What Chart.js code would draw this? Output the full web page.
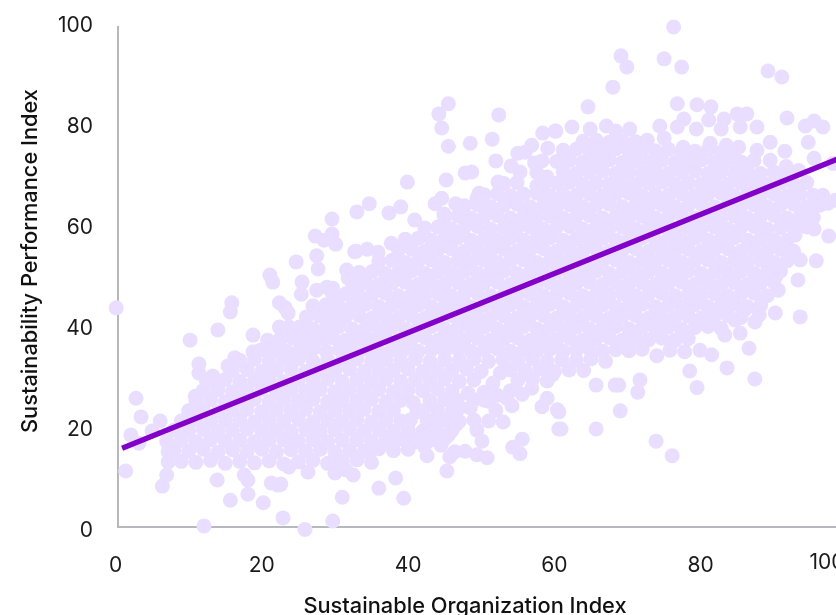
<!DOCTYPE html>
<html>
<head>
<meta charset="utf-8">
<script src="https://cdn.jsdelivr.net/npm/chart.js@4"></script>
<style>
html, body { margin: 0; padding: 0; width: 836px; height: 615px; overflow: hidden; background: #fff; }
canvas { display: block; }
</style>
</head>
<body>
<canvas id="chart" width="900" height="615"></canvas>
<script>
// values, [organization index, performance index]
const topRight = [[76.3,99],[69.1,93.3],[69.9,91.1],[75,92.7],[77.4,91.1],[68,87.1],[89.2,90.3],[91.1,89.1],[64.6,83.2],[76.8,83.8],[79.5,83.6],[81.4,83.2],[77.7,80.8],[76.8,79.2],[74.4,79.4],[81.1,80.6],[83.2,80.8],[85,81.8],[86.3,81.8],[85.4,79.2],[79.4,78.8],[82.8,78.8],[87.7,79.2],[91.8,81],[94.3,79.4],[95.5,80.4],[96.7,79.2],[62.4,79.2],[60.2,78.4],[64.9,78.8],[67.1,79.4],[68.4,78.4],[70.3,78.8],[72.7,76.6],[75,77],[77.6,75.2],[81.3,76],[83.5,75.6],[85.2,75.2],[87.7,74.6],[89.5,76.2],[91.5,74.4],[94.7,76.2],[95.5,73],[98.1,72],[89.5,72.6],[91.7,71.4],[93.4,70.6],[96.7,65.7]];
const rightEdge = [[98.4,64.7],[97.4,64.1],[95.2,61.8],[95.5,59],[92.9,57.8],[91.8,56.8],[97.5,57.6],[95.8,52.7],[93.6,41.6],[93.3,48.9],[90.6,46.9],[90.2,49.5],[90.2,42.4],[88,42],[87.4,40.6],[86.6,35.4],[87.4,29.3],[83.6,31.5],[81.5,34.1],[79.5,27.6],[78.5,30.9],[76.1,14.1],[73.9,17],[69,23],[68.8,28.1],[71.7,29.1],[71.4,26.7],[65.7,19.4],[60.9,19.4],[60.6,22.8],[65.7,28.1],[68.3,28.1],[74,33.9],[75.8,35],[77.8,34.7],[79.9,35],[83.3,38],[85.4,38.4],[86,43],[84.7,41]];
const topLeft = [[45.5,83.8],[44.2,81.8],[52.4,81.6],[44.6,79],[45.5,75.4],[48.5,76],[51.5,76.8],[58.4,78],[60.1,78.4],[56.9,75.6],[59.1,75],[55,74],[56,74.2],[52,72.5],[57.3,72.1],[58.3,72.5],[54.1,71.5],[55.3,70.3],[47.8,70.1],[48.7,70.3],[45.2,68.7],[39.9,68.3],[52.3,68.3],[59,69.3],[57.6,67.5],[49.7,66.1],[49.4,65.1],[44.6,65.1],[43.7,64],[46.5,64],[44.9,62],[34.7,64],[33,62.4],[39,63.4],[37.4,62.2],[40.9,60.8],[29.6,61],[27.3,57.6],[29.6,58],[28.5,56.8],[30.1,56],[37.7,56.2],[32.9,54.6],[34.4,55],[35.9,54.4],[27.5,53.7],[24.7,52.5],[21.1,49.9],[21.5,48.5],[25.5,48.5],[25.4,46.1],[27.7,51.1],[15.9,44.4],[15.7,42.6],[14,39],[10.2,37],[0.1,43.4],[2.8,25.5],[11.4,32.3],[16.3,33.5],[15.4,31.9],[11.4,30.5],[13.3,29.9],[12.4,29.1],[10.9,25.9],[18.8,38],[18.8,34.7],[22.4,44.4],[23.2,43.4],[23.6,42.4],[22.4,39.6],[23.7,39.6],[27.3,42.8],[25.8,39.6],[25.6,37.4],[28.4,37.4],[20.8,37],[22.5,36.6],[21.5,34.7],[23.6,34.1],[25.6,34.5],[27.5,46.9],[28.9,47.5],[29.7,47.3],[30.3,45.5],[29.3,43.6],[31,42.6],[29,41.4],[32.7,54.5],[31.6,50.9],[31.8,49.3],[33.8,48.3],[32.7,45.3]];
const bottomEdge = [[1.4,11.1],[2.1,18.2],[3.5,21.8],[3.2,16.6],[6.1,21],[5,19],[6.4,8.1],[7,10.3],[7.2,14.9],[7.2,12.9],[13.9,9.3],[17.6,10.3],[18.1,9.3],[18.1,6.5],[15.7,5.3],[20.2,4.8],[12.1,0.2],[21.3,8.7],[22.9,1.8],[22.2,8.3],[25.9,-0.5],[29.7,1.2],[31,5.9],[36,7.7],[38.3,9.7],[39.4,5.7],[26.3,10.9],[22.6,8.5],[23.7,11.9],[30,10.7],[30.6,12.3],[31.5,11.3],[32.5,10.3],[35.1,15.4],[37.1,17.6],[38.2,17.8],[40.7,16.8],[42.6,14.1],[42.2,16],[45.3,11.1],[44.5,16.2],[45.5,18.2],[46.5,20.2],[45.7,13.9],[46.4,14.9],[47.8,15],[49.4,14.3],[50.8,13.7],[50.1,17],[49.4,19.2],[54.3,15.8],[55.6,17.4],[55.3,14.5],[44.1,21.8],[42.6,21.2],[43.3,19],[40.7,24.6],[41.2,22.8],[40.3,21.2],[48.5,23.6],[47.1,23.6],[46.7,25.1],[48.2,26.5],[50.4,25.1],[50.4,26.7],[54.2,24],[53.5,25.5],[52.2,26.1],[55.6,26.3],[56.9,27.5],[58.3,23.8],[59,25.5],[60.4,23.2],[60.6,19.4],[51.6,28.5],[52.6,30.5],[59.7,30.1]];
const coreLow = [
[9,13],[11,12.8],[13,13.2],[15,12.6],[17,13],[19,12.7],[21,13.1],[23,12.5],[25,12.9],[27,13.2],[29,12.6],[31,13],[33,13.3],[35,12.8],
[8,15.2],[10,15],[12,15.4],[14,14.8],[16,15.3],[18,15],[20,15.4],[22,14.9],[24,15.3],[26,15],[28,15.4],[30,14.8],[32,15.2],[34,15],[36,15.5],[38,15.1],[40,15.4],
[7,17],[9,17.2],[11,16.9],[13,17.3],[15,17],[17,17.2],[19,16.9],[21,17.2],[23,17.3],[25,17],[27,17.3],[29,16.9],[31,17.2],[33,17.3],[35,17],[37,17.2],[39,17.4],[41,17.3],[43,17.2],[45,17.5],
[8,19.2],[10,19],[12,19.3],[14,18.9],[16,19.2],[18,19.4],[20,19],[22,19.2],[24,18.9],[26,19.3],[28,19],[30,19.2],[32,19.4],[34,19],[36,19.2],[38,18.9],[40,19.3],[42,19],[44,19.2],[46,19.1],
[9,21],[11,21.2],[13,20.8],[15,21.1],[17,21.3],[19,20.8],[21,21.1],[23,21],[25,21.3],[27,20.8],[29,21.1],[31,21],[33,21.3],[35,20.8],[37,21.1],[39,21],[45,21.2],[47,20.9],[49,21.2],[51,21],[53,20.8],
[10,23],[12,23.2],[14,22.8],[16,23.1],[18,23.3],[20,22.8],[22,23.1],[24,23],[26,23.3],[28,22.8],[30,23.1],[32,23],[34,23.3],[36,22.8],[38,23.1],[42,23],[44,23.2],[46,22.9],[52,23.1],
[11,25],[13,25.2],[15,24.8],[17,25.1],[19,25.3],[21,24.8],[23,25.1],[25,25],[27,25.3],[29,24.8],[31,25.1],[33,25],[35,25.3],[37,24.8],[39,25.1],[43,25],[45,25.2],[49,25.2],[51,24.9],
[12,27],[14,27.2],[16,26.8],[18,27.1],[20,27.3],[22,26.8],[24,27.1],[26,27],[28,27.3],[30,26.8],[32,27.1],[34,27],[36,27.3],[38,26.8],[40,27.1],[42,27],[44,27.3],[46,26.9],[54,27],
[13,29],[15,29.2],[17,28.8],[19,29.1],[21,29.3],[23,28.8],[25,29.1],[27,29],[29,29.3],[31,28.8],[33,29.1],[35,29],[37,29.3],[39,28.8],[41,29.1],[43,29],[45,29.3],[47,28.8],[49,29.1],[55,29],[57,29.2],[59,28.9],
[16,31],[18,31.2],[20,30.8],[22,31.1],[24,31.3],[26,30.8],[28,31.1],[30,31],[32,31.3],[34,30.8],[36,31.1],[38,31],[40,31.3],[42,30.8],[44,31.1],[46,31],[48,31.3],[50,30.8],[54,31.1],[56,31],[58,31.3],[60,30.8],[62,31.1],[64,31],
[17,33],[19,33.2],[21,32.8],[23,33.1],[25,33.3],[27,32.8],[29,33.1],[31,33],[33,33.3],[35,32.8],[37,33.1],[39,33],[41,33.3],[43,32.8],[45,33.1],[47,33],[49,33.3],[51,32.8],[53,33.1],[55,33],[57,33.3],[59,32.8],[61,33.1],[63,33],[65,33.3],[67,32.8]
];
const coreMid = [
[19.8,35],[21.6,35.2],[23.4,34.8],[25.2,35.1],[27,35.3],[28.8,34.8],[30.6,35.1],[32.4,34.9],[34.2,35.2],[36,34.8],[37.8,35.1],[39.6,35.3],[41.4,34.8],[43.2,35.1],[45,34.9],[46.8,35.2],[48.6,34.8],[50.4,35.1],[52.2,35.3],[54,34.8],[55.8,35.1],[57.6,34.9],[59.4,35.2],[61.2,34.8],[63,35.1],[64.8,35.3],[66.6,34.8],[68.4,35.1],[70.2,34.9],[72,35.2],
[22.5,37.2],[24.3,37.4],[26.1,37],[27.9,37.3],[29.7,37.5],[31.5,37],[33.3,37.3],[35.1,37.1],[36.9,37.4],[38.7,37],[40.5,37.3],[42.3,37.5],[44.1,37],[45.9,37.3],[47.7,37.1],[49.5,37.4],[51.3,37],[53.1,37.3],[54.9,37.5],[56.7,37],[58.5,37.3],[60.3,37.1],[62.1,37.4],[63.9,37],[65.7,37.3],[67.5,37.5],[69.3,37],[71.1,37.3],[72.9,37.1],[74.7,37.4],[76.5,37],[78.3,37.3],
[23.4,39.4],[25.2,39.6],[27,39.2],[28.8,39.5],[30.6,39.7],[32.4,39.2],[34.2,39.5],[36,39.3],[37.8,39.6],[39.6,39.2],[41.4,39.5],[43.2,39.7],[45,39.2],[46.8,39.5],[48.6,39.3],[50.4,39.6],[52.2,39.2],[54,39.5],[55.8,39.7],[57.6,39.2],[59.4,39.5],[61.2,39.3],[63,39.6],[64.8,39.2],[66.6,39.5],[68.4,39.7],[70.2,39.2],[72,39.5],[73.8,39.3],[75.6,39.6],[77.4,39.2],[79.2,39.5],[81,39.7],[82.8,39.3],
[26.1,41.6],[27.9,41.8],[29.7,41.4],[31.5,41.7],[33.3,41.9],[35.1,41.4],[36.9,41.7],[38.7,41.5],[40.5,41.8],[42.3,41.4],[44.1,41.7],[45.9,41.9],[47.7,41.4],[49.5,41.7],[51.3,41.5],[53.1,41.8],[54.9,41.4],[56.7,41.7],[58.5,41.9],[60.3,41.4],[62.1,41.7],[63.9,41.5],[65.7,41.8],[67.5,41.4],[69.3,41.7],[71.1,41.9],[72.9,41.4],[74.7,41.7],[76.5,41.5],[78.3,41.8],[80.1,41.4],[81.9,41.7],[83.7,41.9],[85.5,41.5],
[27,43.8],[28.8,44],[30.6,43.6],[32.4,43.9],[34.2,44.1],[36,43.6],[37.8,43.9],[39.6,43.7],[41.4,44],[43.2,43.6],[45,43.9],[46.8,44.1],[48.6,43.6],[50.4,43.9],[52.2,43.7],[54,44],[55.8,43.6],[57.6,43.9],[59.4,44.1],[61.2,43.6],[63,43.9],[64.8,43.7],[66.6,44],[68.4,43.6],[70.2,43.9],[72,44.1],[73.8,43.6],[75.6,43.9],[77.4,43.7],[79.2,44],[81,43.6],[82.8,43.9],[84.6,44.1],[86.4,43.6],[88.2,43.9],
[29.7,46],[31.5,46.2],[33.3,45.8],[35.1,46.1],[36.9,46.3],[38.7,45.8],[40.5,46.1],[42.3,45.9],[44.1,46.2],[45.9,45.8],[47.7,46.1],[49.5,46.3],[51.3,45.8],[53.1,46.1],[54.9,45.9],[56.7,46.2],[58.5,45.8],[60.3,46.1],[62.1,46.3],[63.9,45.8],[65.7,46.1],[67.5,45.9],[69.3,46.2],[71.1,45.8],[72.9,46.1],[74.7,46.3],[76.5,45.8],[78.3,46.1],[80.1,45.9],[81.9,46.2],[83.7,45.8],[85.5,46.1],[87.3,46.3],[89.1,45.8],
[32.4,48.2],[34.2,48.4],[36,48],[37.8,48.3],[39.6,48.5],[41.4,48],[43.2,48.3],[45,48.1],[46.8,48.4],[48.6,48],[50.4,48.3],[52.2,48.5],[54,48],[55.8,48.3],[57.6,48.1],[59.4,48.4],[61.2,48],[63,48.3],[64.8,48.5],[66.6,48],[68.4,48.3],[70.2,48.1],[72,48.4],[73.8,48],[75.6,48.3],[77.4,48.5],[79.2,48],[81,48.3],[82.8,48.1],[84.6,48.4],[86.4,48],[88.2,48.3],[90,48.5],
[33.3,50.4],[35.1,50.6],[36.9,50.2],[38.7,50.5],[40.5,50.7],[42.3,50.2],[44.1,50.5],[45.9,50.3],[47.7,50.6],[49.5,50.2],[51.3,50.5],[53.1,50.7],[54.9,50.2],[56.7,50.5],[58.5,50.3],[60.3,50.6],[62.1,50.2],[63.9,50.5],[65.7,50.7],[67.5,50.2],[69.3,50.5],[71.1,50.3],[72.9,50.6],[74.7,50.2],[76.5,50.5],[78.3,50.7],[80.1,50.2],[81.9,50.5],[83.7,50.3],[85.5,50.6],[87.3,50.2],[89.1,50.5],[90.9,50.7]
];
const coreHigh = [
[36,52.6],[37.8,52.8],[39.6,52.4],[41.4,52.7],[43.2,52.9],[45,52.4],[46.8,52.7],[48.6,52.5],[50.4,52.8],[52.2,52.4],[54,52.7],[55.8,52.9],[57.6,52.4],[59.4,52.7],[61.2,52.5],[63,52.8],[64.8,52.4],[66.6,52.7],[68.4,52.9],[70.2,52.4],[72,52.7],[73.8,52.5],[75.6,52.8],[77.4,52.4],[79.2,52.7],[81,52.9],[82.8,52.4],[84.6,52.7],[86.4,52.5],[88.2,52.8],[90,52.4],[91.8,52.7],[93.6,52.9],
[38.7,54.8],[40.5,55],[42.3,54.6],[44.1,54.9],[45.9,55.1],[47.7,54.6],[49.5,54.9],[51.3,54.7],[53.1,55],[54.9,54.6],[56.7,54.9],[58.5,55.1],[60.3,54.6],[62.1,54.9],[63.9,54.7],[65.7,55],[67.5,54.6],[69.3,54.9],[71.1,55.1],[72.9,54.6],[74.7,54.9],[76.5,54.7],[78.3,55],[80.1,54.6],[81.9,54.9],[83.7,55.1],[85.5,54.6],[87.3,54.9],[89.1,54.7],[90.9,55],[92.7,54.6],
[39.6,57],[41.4,57.2],[43.2,56.8],[45,57.1],[46.8,57.3],[48.6,56.8],[50.4,57.1],[52.2,56.9],[54,57.2],[55.8,56.8],[57.6,57.1],[59.4,57.3],[61.2,56.8],[63,57.1],[64.8,56.9],[66.6,57.2],[68.4,56.8],[70.2,57.1],[72,57.3],[73.8,56.8],[75.6,57.1],[77.4,56.9],[79.2,57.2],[81,56.8],[82.8,57.1],[84.6,57.3],[86.4,56.8],[88.2,57.1],[90,56.9],
[42.3,59.2],[44.1,59.4],[45.9,59],[47.7,59.3],[49.5,59.5],[51.3,59],[53.1,59.3],[54.9,59.1],[56.7,59.4],[58.5,59],[60.3,59.3],[62.1,59.5],[63.9,59],[65.7,59.3],[67.5,59.1],[69.3,59.4],[71.1,59],[72.9,59.3],[74.7,59.5],[76.5,59],[78.3,59.3],[80.1,59.1],[81.9,59.4],[83.7,59],[85.5,59.3],[87.3,59.5],[89.1,59],[90.9,59.3],[92.7,59.1],[94.5,59.4],
[45,61.4],[46.8,61.6],[48.6,61.2],[50.4,61.5],[52.2,61.7],[54,61.2],[55.8,61.5],[57.6,61.3],[59.4,61.6],[61.2,61.2],[63,61.5],[64.8,61.7],[66.6,61.2],[68.4,61.5],[70.2,61.3],[72,61.6],[73.8,61.2],[75.6,61.5],[77.4,61.7],[79.2,61.2],[81,61.5],[82.8,61.3],[84.6,61.6],[86.4,61.2],[88.2,61.5],[90,61.7],[91.8,61.2],[93.6,61.5],[95.4,61.3],
[47.7,63.6],[49.5,63.8],[51.3,63.4],[53.1,63.7],[54.9,63.9],[56.7,63.4],[58.5,63.7],[60.3,63.5],[62.1,63.8],[63.9,63.4],[65.7,63.7],[67.5,63.9],[69.3,63.4],[71.1,63.7],[72.9,63.5],[74.7,63.8],[76.5,63.4],[78.3,63.7],[80.1,63.9],[81.9,63.4],[83.7,63.7],[85.5,63.5],[87.3,63.8],[89.1,63.4],[90.9,63.7],[92.7,63.9],[94.5,63.4],[96.3,63.7],
[50.4,65.8],[52.2,66],[54,65.6],[55.8,65.9],[57.6,66.1],[59.4,65.6],[61.2,65.9],[63,65.7],[64.8,66],[66.6,65.6],[68.4,65.9],[70.2,66.1],[72,65.6],[73.8,65.9],[75.6,65.7],[77.4,66],[79.2,65.6],[81,65.9],[82.8,66.1],[84.6,65.6],[86.4,65.9],[88.2,65.7],[90,66],[91.8,65.6],[93.6,65.9],[95.4,65.7],
[53.1,68],[54.9,68.2],[58.5,67.8],[60.3,68.1],[62.1,68.3],[63.9,67.8],[65.7,68.1],[67.5,67.9],[69.3,68.2],[71.1,67.8],[72.9,68.1],[74.7,68.3],[76.5,67.8],[78.3,68.1],[80.1,67.9],[81.9,68.2],[83.7,67.8],[85.5,68.1],[87.3,68.3],[89.1,67.8],[90.9,68.1],[92.7,67.9],[94.5,68.2],
[57.6,70.2],[61.2,70.4],[63,70],[64.8,70.3],[66.6,70.5],[68.4,70],[70.2,70.3],[72,70.1],[73.8,70.4],[75.6,70],[77.4,70.3],[79.2,70.5],[81,70],[82.8,70.3],[84.6,70.1],[86.4,70.4],[88.2,70],[90,70.3],[91.8,70.1],
[60.3,72.4],[62.1,72.6],[63.9,72.2],[65.7,72.5],[67.5,72.7],[69.3,72.2],[71.1,72.5],[72.9,72.3],[74.7,72.6],[76.5,72.2],[78.3,72.5],[80.1,72.7],[81.9,72.2],[83.7,72.5],[85.5,72.3],[87.3,72.6],
[61.2,74.6],[63,74.8],[64.8,74.4],[66.6,74.7],[68.4,74.9],[70.2,74.4],[72,74.7],[73.8,74.5],[75.6,74.8],[77.4,74],[79.2,74.4],[81,74.7],[82.8,74.2],[84.6,74.5],
[63.9,76.4],[65.7,76.6],[67.5,76.2],[69.3,76.5],[71.1,76.3]
];
const trendX = [0.9, 100];
const trendY = [15.6, 73.6];
const tickStep = 20;
const lastTickText = '100';
const xTitle = 'Sustainable Organization Index';
const yTitle = 'Sustainability Performance Index';

const points = [...coreLow, ...coreMid, ...coreHigh, ...topRight, ...rightEdge, ...topLeft, ...bottomEdge]
    .map(p => ({ x: p[0], y: p[1] }));

// axis lines sit a little inside the tick positions, titles are off-centre
const axesAndTitles = {
    id: 'axesAndTitles',
    beforeDatasetsDraw(chart) {
        const { ctx, chartArea } = chart;
        ctx.save();
        ctx.strokeStyle = '#b6b8bb';
        ctx.lineWidth = 2;
        ctx.beginPath();
        ctx.moveTo(chartArea.left + 2.5, chartArea.top + 4);
        ctx.lineTo(chartArea.left + 2.5, chartArea.bottom);
        ctx.lineTo(chartArea.right, chartArea.bottom);
        ctx.stroke();
        ctx.restore();
    },
    afterDraw(chart) {
        const { ctx } = chart;
        ctx.save();
        ctx.textAlign = 'center';
        ctx.textBaseline = 'middle';
        // the last x label is pulled in from its tick in the original
        ctx.fillStyle = '#1a1a1a';
        ctx.font = '21px Inter';
        ctx.fillText(lastTickText, 827, 563);
        ctx.fillStyle = '#111';
        ctx.font = '500 21.8px Inter';
        ctx.fillText(xTitle, 465, 606);
        ctx.translate(30, 261);
        ctx.rotate(-Math.PI / 2);
        ctx.fillText(yTitle, 0, 0);
        ctx.restore();
    }
};

new Chart(document.getElementById('chart'), {
    type: 'scatter',
    data: {
        datasets: [
            {
                type: 'line',
                data: trendX.map((x, i) => ({ x: x, y: trendY[i] })),
                borderColor: '#8200c8',
                borderWidth: 5.5,
                pointRadius: 0,
                fill: false,
                clip: false
            },
            {
                data: points,
                backgroundColor: '#e9deff',
                borderWidth: 0,
                pointRadius: 7.5,
                clip: false
            }
        ]
    },
    options: {
        responsive: false,
        animation: false,
        layout: { padding: { left: 0, right: 53, top: 22, bottom: 0 } },
        plugins: { legend: { display: false }, tooltip: { enabled: false } },
        scales: {
            x: {
                type: 'linear',
                min: 0,
                max: 100,
                afterFit: s => { s.height = 88; },
                grid: { display: false },
                border: { display: false },
                ticks: {
                    stepSize: tickStep,
                    padding: 18,
                    maxRotation: 0,
                    autoSkip: false,
                    color: '#1a1a1a',
                    font: { family: 'Inter', size: 21 },
                    callback: v => (v === 100 ? '' : v)
                }
            },
            y: {
                min: 0,
                max: 100,
                afterFit: s => { s.width = 115.5; s.paddingTop = 0; s.paddingBottom = 0; },
                grid: { display: false },
                border: { display: false },
                ticks: { stepSize: tickStep, padding: 14.5, labelOffset: 3.5, color: '#1a1a1a', font: { family: 'Inter', size: 21 } }
            }
        }
    },
    plugins: [axesAndTitles]
});
</script>
</body>
</html>
